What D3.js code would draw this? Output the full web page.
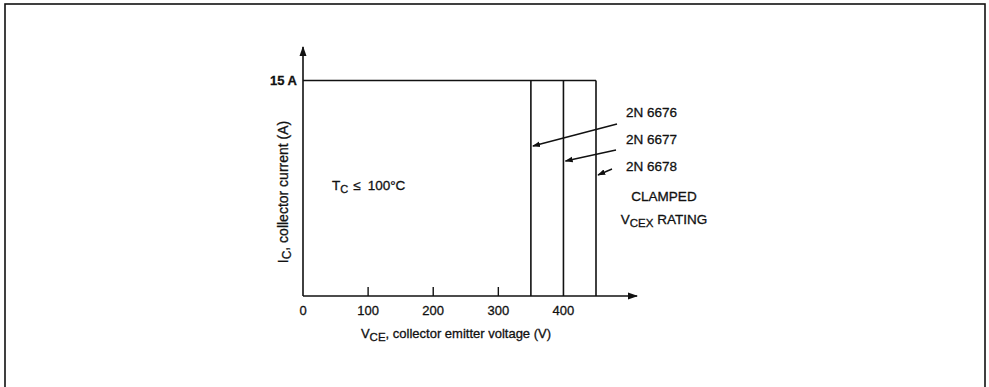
<!DOCTYPE html>
<html><head><meta charset="utf-8">
<script src="https://cdn.jsdelivr.net/npm/d3@7"></script>
<style>
body{margin:0;background:#fff;}
text{font-family:"Liberation Sans",Arial,sans-serif;fill:#111;stroke:#111;stroke-width:0.3;}
</style></head>
<body><svg id="c" width="989" height="387"></svg>
<script>
const xTicks = [0, 100, 200, 300, 400];
const xTickLabels = ["0", "100", "200", "300", "400"];
const devices = ["2N 6676", "2N 6677", "2N 6678"];
const ratedVoltage = [350, 400, 450];
const maxCurrent = 15;
const maxCurrentLabel = "15 A";

const svg = d3.select("#c");
const ink = "#111";
// page border
svg.append("rect").attr("x",5).attr("y",4).attr("width",980).attr("height",390)
  .attr("fill","none").attr("stroke",ink).attr("stroke-width",1.6);

const x = d3.scaleLinear().domain([0,450]).range([303,596]);
const y = d3.scaleLinear().domain([0,15]).range([296,80.5]);

const defs = svg.append("defs");
defs.append("marker").attr("id","ah").attr("viewBox","0 0 10 10").attr("refX",9).attr("refY",5)
  .attr("markerWidth",10).attr("markerHeight",10).attr("markerUnits","userSpaceOnUse").attr("orient","auto")
  .append("path").attr("d","M0,1.5 L10,5 L0,8.5 z").attr("fill",ink);
defs.append("marker").attr("id","ah2").attr("viewBox","0 0 10 10").attr("refX",9).attr("refY",5)
  .attr("markerWidth",8).attr("markerHeight",8).attr("markerUnits","userSpaceOnUse").attr("orient","auto")
  .append("path").attr("d","M0,1.5 L10,5 L0,8.5 z").attr("fill",ink);

// axes
svg.append("line").attr("x1",x(0)).attr("y1",y(0)).attr("x2",x(0)).attr("y2",47)
  .attr("stroke",ink).attr("stroke-width",1.6).attr("marker-end","url(#ah)");
svg.append("line").attr("x1",x(0)).attr("y1",y(0)).attr("x2",637).attr("y2",y(0))
  .attr("stroke",ink).attr("stroke-width",1.6).attr("marker-end","url(#ah)");

// ticks
svg.selectAll(".tk").data(xTicks.filter(d=>d>0 && d<350)).enter().append("line")
  .attr("x1",d=>x(d)).attr("x2",d=>x(d)).attr("y1",y(0)).attr("y2",y(0)-9)
  .attr("stroke",ink).attr("stroke-width",1.4);
svg.selectAll(".tl").data(xTicks).enter().append("text")
  .attr("x",d=>x(d)).attr("y",315).attr("text-anchor","middle").attr("font-size",13)
  .text((d,i)=>xTickLabels[i]);

// SOA boundary
svg.append("line").attr("x1",x(0)).attr("x2",x(450)).attr("y1",y(maxCurrent)).attr("y2",y(maxCurrent))
  .attr("stroke",ink).attr("stroke-width",1.6);
svg.selectAll(".vl").data(ratedVoltage).enter().append("line")
  .attr("x1",d=>x(d)).attr("x2",d=>x(d)).attr("y1",y(maxCurrent)).attr("y2",y(0))
  .attr("stroke",ink).attr("stroke-width",1.6);

svg.append("text").attr("x",x(0)-6).attr("y",y(maxCurrent)+4.5).attr("text-anchor","end")
  .attr("font-size",13).attr("font-weight","bold").text(maxCurrentLabel);

// device labels and arrows
const labelY = [112, 139, 166];
const arrowStart = [[617,124],[616,150],[612,169]];
const arrowEndY = [146, 161, 175];
devices.forEach((d,i)=>{
  svg.append("text").attr("x",626).attr("y",labelY[i]+5).attr("font-size",13.5).text(d);
  svg.append("line").attr("x1",arrowStart[i][0]).attr("y1",arrowStart[i][1])
    .attr("x2",x(ratedVoltage[i])+2).attr("y2",arrowEndY[i])
    .attr("stroke",ink).attr("stroke-width",1.4).attr("marker-end","url(#ah2)");
});

svg.append("text").attr("x",664).attr("y",201).attr("text-anchor","middle").attr("font-size",13.5).text("CLAMPED");
const t2 = svg.append("text").attr("x",664).attr("y",224).attr("text-anchor","middle").attr("font-size",13.5);
t2.append("tspan").text("V");
t2.append("tspan").attr("font-size",11.5).attr("dy",3).text("CEX");
t2.append("tspan").attr("dy",-3).text(" RATING");

const tc = svg.append("text").attr("x",332).attr("y",190).attr("font-size",13.5);
tc.append("tspan").text("T");
tc.append("tspan").attr("font-size",11).attr("dy",3).text("C");
tc.append("tspan").attr("dy",-3).attr("dx",5).text("≤");
tc.append("tspan").attr("dx",7).text("100°C");

// axis titles
const xt = svg.append("text").attr("x",456).attr("y",338).attr("text-anchor","middle").attr("font-size",13);
xt.append("tspan").text("V");
xt.append("tspan").attr("font-size",11.5).attr("dy",3).text("CE");
xt.append("tspan").attr("dy",-3).text(", collector emitter voltage (V)");

const yt = svg.append("text").attr("transform","translate(288,192) rotate(-90)").attr("text-anchor","middle").attr("font-size",14);
yt.append("tspan").text("I");
yt.append("tspan").attr("font-size",12).attr("dy",3).text("C");
yt.append("tspan").attr("dy",-3).text(", collector current (A)");
</script></body></html>
